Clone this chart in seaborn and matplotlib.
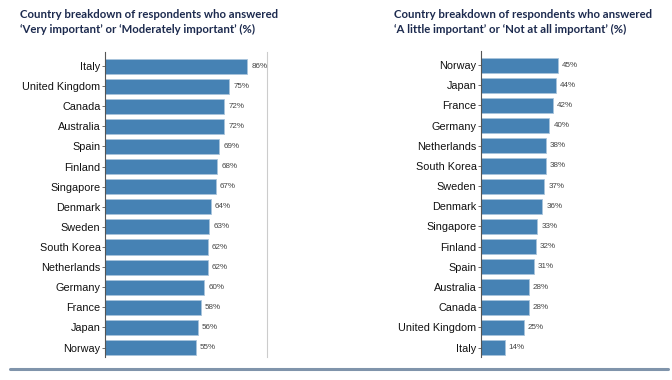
import numpy as np
import pandas as pd
import seaborn as sns
import matplotlib.pyplot as plt

sns.set_style('white')
plt.rcParams['font.family'] = ['Liberation Sans', 'DejaVu Sans']

left_countries = ["Italy", "United Kingdom", "Canada", "Australia", "Spain", "Finland",
                  "Singapore", "Denmark", "Sweden", "South Korea", "Netherlands",
                  "Germany", "France", "Japan", "Norway"]
left_values = [86, 75, 72, 72, 69, 68, 67, 64, 63, 62, 62, 60, 58, 56, 55]

right_countries = ["Norway", "Japan", "France", "Germany", "Netherlands", "South Korea",
                   "Sweden", "Denmark", "Singapore", "Finland", "Spain", "Australia",
                   "Canada", "United Kingdom", "Italy"]
right_values = [45, 44, 42, 40, 38, 38, 37, 36, 33, 32, 31, 28, 28, 25, 14]

left_title = "Country breakdown of respondents who answered\n\u2018Very important\u2019 or \u2018Moderately important\u2019 (%)"
right_title = "Country breakdown of respondents who answered\n\u2018A little important\u2019 or \u2018Not at all important\u2019 (%)"

W, H = 672, 380
fig = plt.figure(figsize=(W / 100, H / 100), dpi=100)

bar_color = '#4682b4'
title_color = '#1c2a4e'


def panel(rect, countries, values, xmax, title, title_x):
    ax = fig.add_axes(rect)
    df = pd.DataFrame({"country": countries, "value": values})
    sns.barplot(data=df, y="country", x="value", orient='h', color=bar_color,
                saturation=1, width=0.75, edgecolor='#a9c4dc', linewidth=0.6, ax=ax)
    ax.set_xlim(0, xmax)
    ax.set_ylim(len(countries) - 0.53, -0.7)
    ax.set_xlabel(None)
    ax.set_ylabel(None)
    ax.set_xticks([])
    ax.tick_params(axis='y', length=2, width=0.6, color='#555555', pad=1,
                   labelsize=7.8, labelcolor='#111111', left=True)
    for s in ['top', 'bottom', 'right']:
        ax.spines[s].set_visible(False)
    ax.spines['left'].set_color('#555555')
    ax.spines['left'].set_linewidth(0.8)
    ax.bar_label(ax.containers[0], fmt='%d%%', padding=3, fontsize=5.8, color='#444444')
    fig.text(title_x / W, 1 - 9 / H, title, ha='left', va='top', fontsize=8.2,
             fontweight='bold', color=title_color, family=['Lato', 'DejaVu Sans'],
             linespacing=1.4)
    return ax


axl = panel([104.7 / W, 1 - 357 / H, 162 / W, 305 / H], left_countries, left_values,
            97.7, left_title, 20)
axl.spines['right'].set_visible(True)
axl.spines['right'].set_color('#cccccc')
axl.spines['right'].set_linewidth(0.8)

axr = panel([480.7 / W, 1 - 357 / H, 120 / W, 306 / H], right_countries, right_values,
            70, right_title, 394)

# bottom rule
fig.add_artist(plt.Line2D([10 / W, 668 / W], [1 - 368.7 / H] * 2, color='#8094ab',
                          linewidth=2.2, transform=fig.transFigure))

fig.savefig('out.png', dpi=100)
